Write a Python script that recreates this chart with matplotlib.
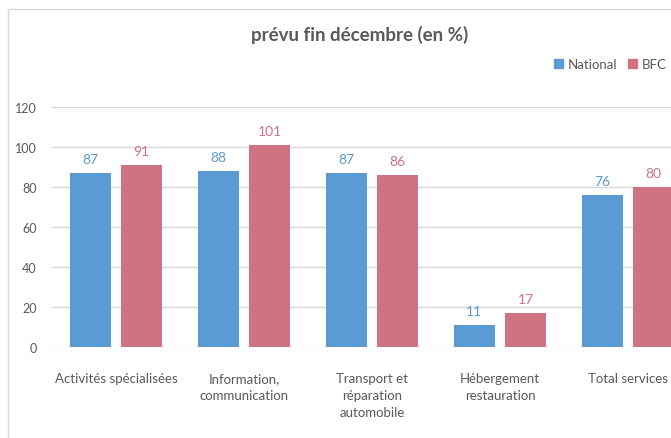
import matplotlib
matplotlib.use("Agg")
import matplotlib.pyplot as plt
from matplotlib.patches import Rectangle, Patch
import numpy as np

categories = ["Activités spécialisées", "Information,\ncommunication",
              "Transport et\nréparation\nautomobile", "Hébergement\nrestauration",
              "Total services"]
national = [87, 88, 87, 11, 76]
bfc = [91, 101, 86, 17, 80]
series_names = ["National", "BFC"]
yticks = [0, 20, 40, 60, 80, 100, 120]

BLUE = "#5B9BD5"
RED = "#D07380"
GRAY = "#595959"
FONT = ["Lato", "DejaVu Sans"]
plt.rcParams['font.family'] = FONT

W, H = 671, 439
fig = plt.figure(figsize=(W / 100, H / 100), dpi=100)

# plot area in pixel coords: left 52, right 692 (cropped), y0 at 348.3, y120 at 107.6
left, right = 52, 692
ybot, ytop = 348.3, 107.6
ax = fig.add_axes([left / W, 1 - ybot / H, (right - left) / W, (ybot - ytop) / H])

x = np.arange(len(categories))
bw = 0.32
off = 0.201
b1 = ax.bar(x - off, national, bw, color=BLUE, label=series_names[0], zorder=3)
b2 = ax.bar(x + off, bfc, bw, color=RED, label=series_names[1], zorder=3)

for bars, vals, col in ((b1, national, BLUE), (b2, bfc, RED)):
    for rect, v in zip(bars, vals):
        ax.annotate(f"{v}", (rect.get_x() + rect.get_width() / 2, v),
                    xytext=(0, 10), textcoords="offset points",
                    ha="center", va="center", color=col, fontsize=10)

ax.set_xlim(-0.5, len(categories) - 0.5)
ax.set_ylim(0, 120)
ax.set_yticks(yticks)
ax.set_yticklabels([str(t) for t in yticks], color=GRAY, fontsize=9)
ax.yaxis.grid(True, color="#D9D9D9", linewidth=1, zorder=0)
ax.set_axisbelow(True)
ax.tick_params(axis="both", length=0)
ax.tick_params(axis="y", pad=11)
ax.set_xticks(x)
ax.set_xticklabels(categories, color=GRAY, fontsize=9.5, linespacing=1.5, va="top")
ax.tick_params(axis="x", pad=18)
for s in ax.spines.values():
    s.set_visible(False)

fig.text(360 / W, 1 - 35 / H, "prévu fin décembre (en %)", ha="center", va="center",
         fontsize=13.5, fontweight="bold", color=GRAY)

handles = [Patch(color=BLUE), Patch(color=RED)]
fig.legend(handles, series_names, loc="center left",
           bbox_to_anchor=(554 / W, 1 - 65 / H), ncol=2, frameon=False,
           handlelength=0.7, handleheight=0.7, handletextpad=0.35,
           columnspacing=0.8, fontsize=9.5, labelcolor=GRAY, borderaxespad=0,
           borderpad=0)

fig.add_artist(Rectangle((7.5 / W, -0.5), 2, 1.5 - 9.5 / H, transform=fig.transFigure,
                         fill=False, edgecolor="#D9D9D9", linewidth=1))

fig.savefig("out.png", dpi=100)
